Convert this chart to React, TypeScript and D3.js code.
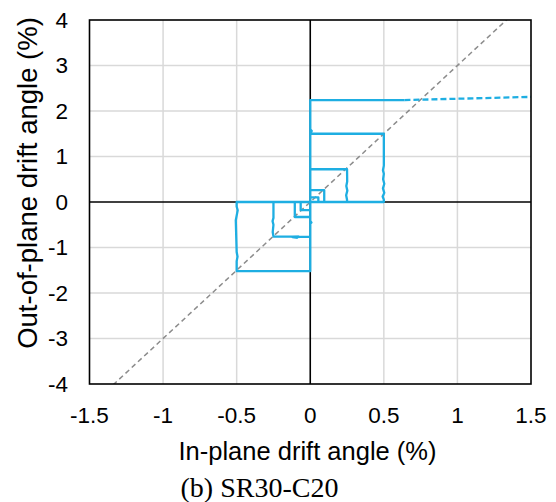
import React from "react";
import * as d3 from "d3";

// Tick values
const xTicks = [-1.5, -1, -0.5, 0, 0.5, 1, 1.5];
const yTicks = [-4, -3, -2, -1, 0, 1, 2, 3, 4];

// Loading path: in-plane drift angle (%) vs out-of-plane drift angle (%)
const inPlane = [
  0, 0.055, 0.055, 0, 0,
  -0.065, -0.065, 0, 0,
  0.095, 0.095, 0, 0,
  -0.105, -0.105, 0, 0,
  0.25, 0.25, 0.244, 0.252, 0.245, 0.251, 0.25, 0, 0, 0,
  -0.25, -0.25, -0.256, -0.25, -0.255, -0.25, -0.08, -0.09, -0.12, 0, 0, 0.008, 0, 0,
  0.5, 0.5, 0.492, 0.503, 0.494, 0.503, 0.495, 0.5, 0.494, 0.5, 0.5, 0, 0.01, 0, 0,
  -0.5, -0.5, -0.493, -0.5, -0.506, -0.5, -0.494, -0.5, -0.5, 0, 0,
  0, 0, 0.64,
];
const outPlane = [
  0, 0, 0.1, 0.1, 0,
  0, -0.18, -0.18, 0,
  0, 0.26, 0.26, 0,
  0, -0.33, -0.33, 0,
  0, 0.05, 0.15, 0.25, 0.35, 0.45, 0.72, 0.72, 0.4, 0,
  0, -0.35, -0.42, -0.5, -0.66, -0.76, -0.76, -0.79, -0.77, -0.76, -0.48, -0.45, -0.42, 0,
  0, 0.05, 0.12, 0.2, 0.3, 0.4, 0.5, 0.62, 0.7, 0.8, 1.5, 1.5, 1.56, 1.6, 0,
  0, -0.1, -0.18, -0.3, -0.4, -1.1, -1.2, -1.3, -1.52, -1.52, 0,
  0, 2.24, 2.24,
];
// Final out-of-plane push (dashed)
const pushIn = [0.64, 1.5];
const pushOut = [2.24, 2.31];
// Reference line: out-of-plane = 3 x in-plane
const refIn = [-1.34, 1.34];
const refOut = [-4.02, 4.02];

const W = 556;
const H = 502;
const BLUE = "#1eaee2";

export default function App() {
  const x = d3.scaleLinear().domain([-1.5, 1.5]).range([89.5, 531]);
  const y = d3.scaleLinear().domain([-4, 4]).range([384, 20]);
  const line = d3
    .line<[number, number]>()
    .x((d) => x(d[0]))
    .y((d) => y(d[1]));

  const pathPts = inPlane.map((v, i) => [v, outPlane[i]] as [number, number]);
  const pushPts = pushIn.map((v, i) => [v, pushOut[i]] as [number, number]);
  const refPts = refIn.map((v, i) => [v, refOut[i]] as [number, number]);

  const [x0, x1] = x.range();
  const [y0, y1] = y.range();

  return (
    <svg
      width={W}
      height={H}
      style={{ position: "absolute", left: 0, top: 0, background: "#fff" }}
      fontFamily="'Liberation Sans', Arial, sans-serif"
    >
      <defs>
        <clipPath id="plotClip">
          <rect x={x0} y={y1} width={x1 - x0} height={y0 - y1} />
        </clipPath>
      </defs>
      {/* grid */}
      {xTicks
        .filter((t) => t !== 0 && Math.abs(t) !== 1.5)
        .map((t) => (
          <line key={"gx" + t} x1={x(t)} x2={x(t)} y1={y1} y2={y0} stroke="#d9d9d9" strokeWidth={1.5} />
        ))}
      {yTicks
        .filter((t) => t !== 0 && Math.abs(t) !== 4)
        .map((t) => (
          <line key={"gy" + t} x1={x0} x2={x1} y1={y(t)} y2={y(t)} stroke="#d9d9d9" strokeWidth={1.5} />
        ))}
      {/* zero axes */}
      <line x1={x(0)} x2={x(0)} y1={y1} y2={y0} stroke="#000" strokeWidth={1.6} />
      <line x1={x0} x2={x1} y1={y(0)} y2={y(0)} stroke="#000" strokeWidth={1.6} />
      <g clipPath="url(#plotClip)">
        <path d={line(refPts) ?? ""} fill="none" stroke="#8c8c8c" strokeWidth={1.5} strokeDasharray="5 3.5" />
        <path d={line(pathPts) ?? ""} fill="none" stroke={BLUE} strokeWidth={2.3} strokeLinejoin="round" />
        <path d={line(pushPts) ?? ""} fill="none" stroke={BLUE} strokeWidth={2.3} strokeDasharray="6 3" />
      </g>
      {/* frame */}
      <rect x={x0} y={y1} width={x1 - x0} height={y0 - y1} fill="none" stroke="#000" strokeWidth={1.6} />
      {/* tick labels */}
      {xTicks.map((t) => (
        <text key={"tx" + t} x={x(t)} y={423} textAnchor="middle" fontSize={22.5} fill="#000">
          {t}
        </text>
      ))}
      {yTicks.map((t) => (
        <text key={"ty" + t} x={68} y={y(t)} dy="0.35em" textAnchor="end" fontSize={22.5} fill="#000">
          {t}
        </text>
      ))}
      {/* axis titles */}
      <text x={307.5} y={460} textAnchor="middle" fontSize={25.5} fill="#000">
        In-plane drift angle (%)
      </text>
      <text transform={`translate(37,${183}) rotate(-90)`} textAnchor="middle" fontSize={27.5} fill="#000">
        Out-of-plane drift angle (%)
      </text>
      <text x={259.5} y={497} textAnchor="middle" fontSize={28} fill="#000" fontFamily="'Liberation Serif', 'Times New Roman', serif">
        (b) SR30-C20
      </text>
    </svg>
  );
}
